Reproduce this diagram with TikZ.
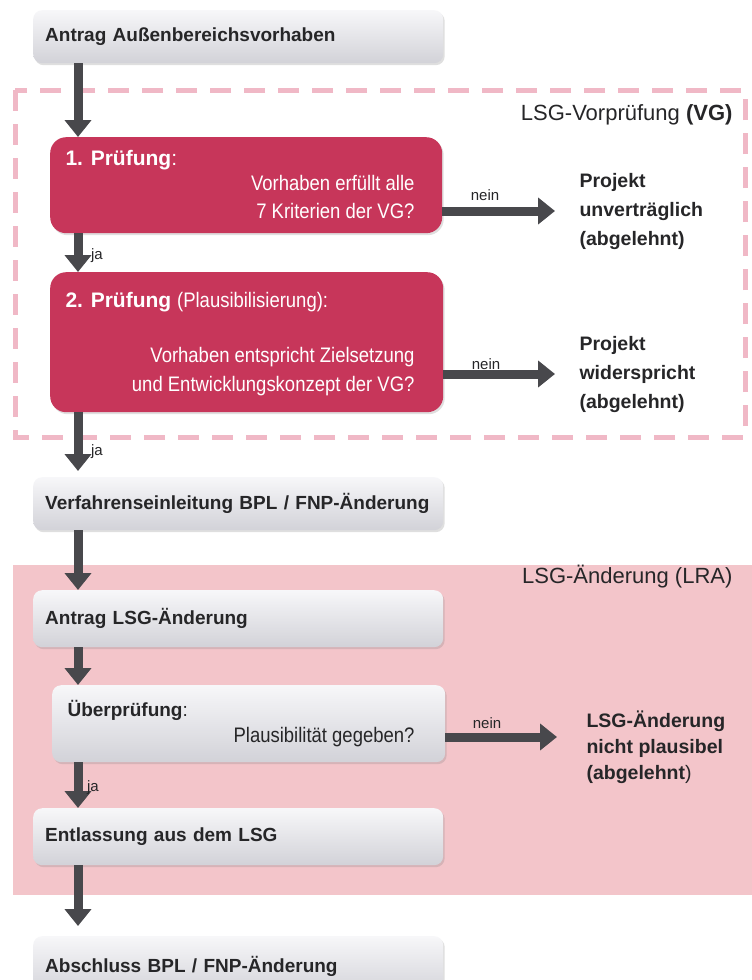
\documentclass[tikz,border=0pt]{standalone}
\usepackage{fontspec}
\setmainfont{Liberation Sans}
\newfontfamily\narrowfont[FakeStretch=0.88]{Liberation Sans}
\usetikzlibrary{arrows.meta,shadows}

\definecolor{boxred}{RGB}{199,54,90}
\definecolor{arrowgrey}{RGB}{72,72,76}
\definecolor{textgrey}{RGB}{38,38,40}
\definecolor{dashpink}{RGB}{240,184,198}
\definecolor{lrapink}{RGB}{243,197,202}
\definecolor{boxlight}{RGB}{247,247,249}
\definecolor{boxdark}{RGB}{210,210,216}

\tikzset{
  greybox/.style={rounded corners=9pt, top color=boxlight, bottom color=boxdark,
    drop shadow={opacity=0.25, shadow xshift=1.5pt, shadow yshift=-2pt},
    anchor=north west, inner xsep=12pt, inner ysep=0pt, text width=386pt, align=left,
    text=textgrey, font=\fontsize{19}{23}\selectfont\bfseries},
  redbox/.style={rounded corners=16pt, fill=boxred, anchor=north west, inner sep=0pt,
    drop shadow={opacity=0.25, shadow xshift=1.5pt, shadow yshift=-2pt}},
  flow/.style={draw=arrowgrey, line width=9pt, -{Triangle[width=26pt,length=17pt]}},
  small/.style={text=textgrey, font=\fontsize{15}{18}\selectfont},
  outcome/.style={anchor=west, align=left, text=textgrey, font=\fontsize{19.5}{29}\selectfont\bfseries},
  redtext/.style={text=white, font=\narrowfont\fontsize{21}{28}\selectfont},
}

\begin{document}
\begin{tikzpicture}[x=1pt, y=-1pt]
  \useasboundingbox (0,0) rectangle (752,980);
  \clip (0,0) rectangle (752,980);
  \fill[white] (0,0) rectangle (752,980);
  \coordinate (spine) at (78,0);

  % areas
  \fill[lrapink] (13,565) rectangle (752,895);
  \draw[dashpink, line width=5pt, dash pattern=on 21pt off 13pt] (15,90) rectangle (745,437);
  \node[anchor=east, text=textgrey, font=\fontsize{22}{26}\selectfont] (vghead) at (736,115) {LSG-Vorprüfung {\bfseries(VG)}};
  \node[anchor=east, text=textgrey, font=\fontsize{22}{26}\selectfont] (lrahead) at (736,577) {LSG-Änderung (LRA)};

  % boxes
  \node[greybox, minimum height=53pt] (antrag) at (33,10) {Antrag Außenbereichsvorhaben};
  \node[redbox, minimum width=392pt, minimum height=96pt] (p1) at (50,137) {};
  \node[redbox, minimum width=393pt, minimum height=140pt] (p2) at (50,272) {};
  \node[greybox, minimum height=53pt] (verf) at (33,477) {Verfahrenseinleitung BPL / FNP-Änderung};
  \node[greybox, minimum height=57pt] (lsgantrag) at (33,590) {Antrag LSG-Änderung};
  \node[greybox, text width=369pt, minimum height=77pt] (ueber) at (52,685) {};
  \node[greybox, minimum height=57pt] (entl) at (33,808) {Entlassung aus dem LSG};
  \node[greybox, minimum height=60pt] (absch) at (33,936) {Abschluss BPL / FNP-Änderung};

  % texts in boxes
  \node[redtext, anchor=west, font=\fontsize{21}{25}\selectfont] (p1title) at (62,160) {{\bfseries 1. Prüfung}:};
  \node[redtext, anchor=east, align=right] (p1q) at (418,197) {Vorhaben erfüllt alle\\7 Kriterien der VG?};
  \node[redtext, anchor=west, font=\fontsize{21}{25}\selectfont] (p2title) at (62,302) {{\bfseries 2. Prüfung} {\narrowfont(Plausibilisierung):}};
  \node[redtext, anchor=east, align=right, font=\narrowfont\fontsize{21}{29}\selectfont] (p2q) at (418,372) {Vorhaben entspricht Zielsetzung\\und Entwicklungskonzept der VG?};
  \node[anchor=west, text=textgrey, font=\fontsize{19}{23}\selectfont] (uebert) at (64,710) {{\bfseries Überprüfung}:};
  \node[anchor=east, text=textgrey, font=\narrowfont\fontsize{21}{25}\selectfont] (ueberq) at (418,737) {Plausibilität gegeben?};

  % results
  \node[outcome] (o1) at (576,211) {Projekt\\unverträglich\\(abgelehnt)};
  \node[outcome] (o2) at (576,374) {Projekt\\widerspricht\\(abgelehnt)};
  \node[outcome, font=\fontsize{19.5}{26}\selectfont\bfseries] (o3) at (583,747) {LSG-Änderung\\nicht plausibel\\(abgelehnt{\mdseries)}};

  % arrows
  \draw[flow] (antrag.south -| spine) -- (p1.north -| spine);
  \draw[flow] (p1.south -| spine) -- (p2.north -| spine);
  \draw[flow, shorten >=6pt] (p2.south -| spine) -- (verf.north -| spine);
  \draw[flow] (verf.south -| spine) -- (lsgantrag.north -| spine);
  \draw[flow] (lsgantrag.south -| spine) -- (ueber.north -| spine);
  \draw[flow] (ueber.south -| spine) -- (entl.north -| spine);
  \draw[flow, shorten >=10pt] (entl.south -| spine) -- (absch.north -| spine);
  \draw[flow, shorten >=21pt] (p1.east |- o1.west) -- (o1.west);
  \draw[flow, shorten >=21pt] (p2.east |- o2.west) -- (o2.west);
  \draw[flow, shorten >=26pt] (ueber.east |- ueberq) -- (o3.west |- ueberq);

  \node[small] (nein1) at (485,195) {nein};
  \node[small] (nein2) at (486,364) {nein};
  \node[small] (nein3) at (487,723) {nein};
  \node[small] (ja1) at (97,256) {ja};
  \node[small] (ja2) at (97,452) {ja};
  \node[small] (ja3) at (93,788) {ja};
\end{tikzpicture}
\end{document}
